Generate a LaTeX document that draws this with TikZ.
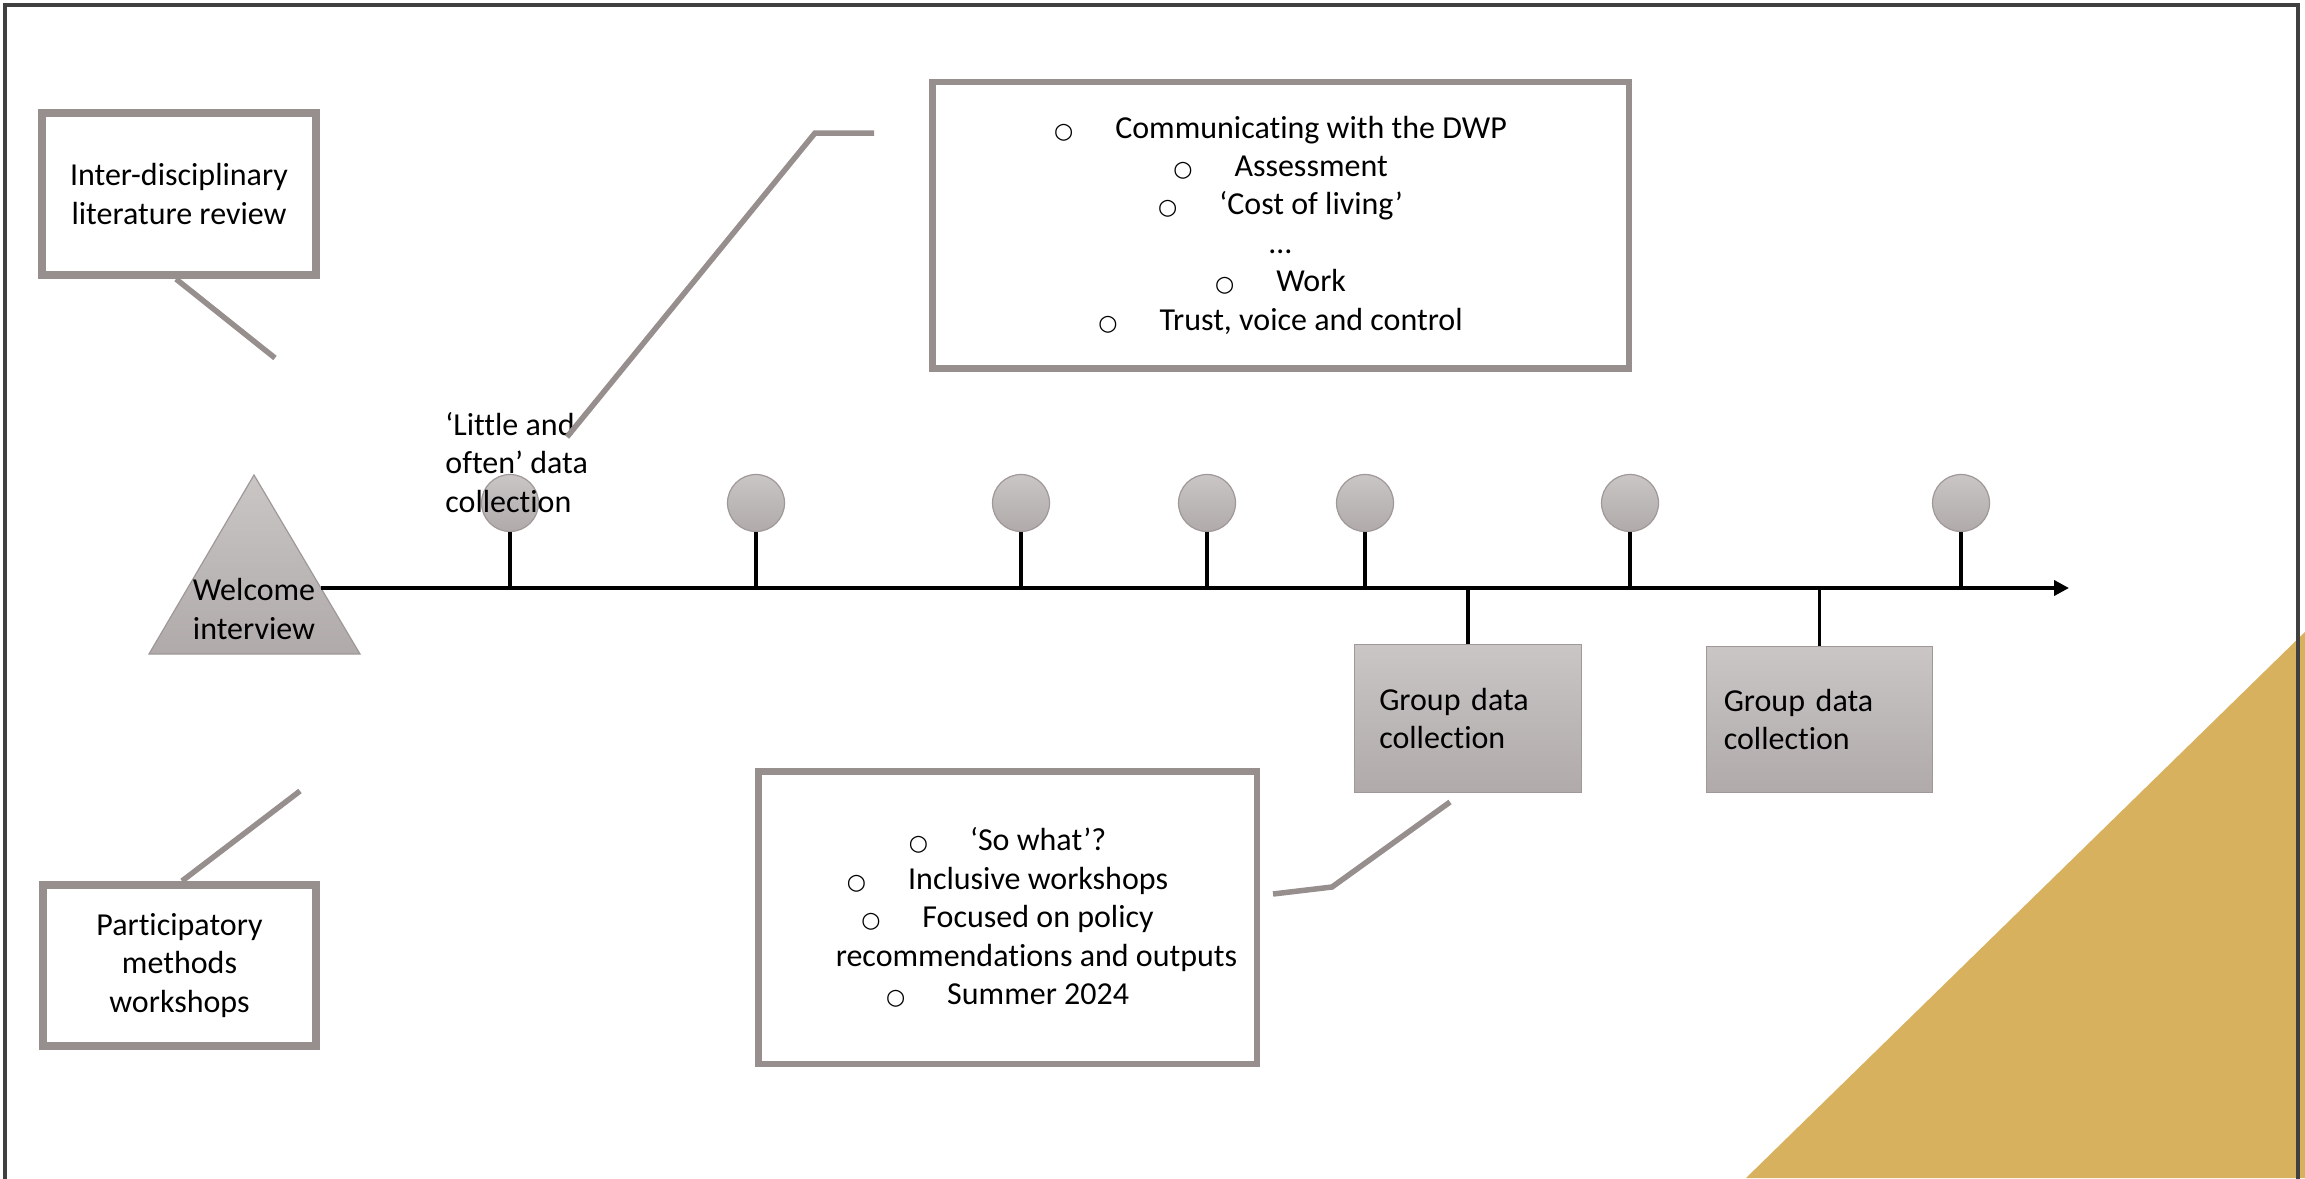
\documentclass[tikz,border=0pt]{standalone}
\usepackage{fontspec}
\setmainfont{Carlito}[Ligatures={TeX,NoCommon}]
\newfontfamily\bulletfont{DejaVu Sans}
\usetikzlibrary{arrows.meta}
\definecolor{framecol}{HTML}{404040}
\definecolor{callgray}{HTML}{978E8E}
\definecolor{goldcol}{HTML}{D8B15E}
\definecolor{shadetop}{HTML}{CAC6C6}
\definecolor{shadebot}{HTML}{B0AAAA}
\definecolor{thingray}{HTML}{A09898}
\newcommand{\bul}{{\bulletfont\fontsize{11pt}{19.2pt}\selectfont ○}\hspace{21pt}}
\tikzset{
  txt/.style={font=\fontsize{16pt}{19.2pt}\selectfont, text=black},
  callbox/.style={txt, draw=callgray, fill=white, align=center, inner sep=0pt},
  callline/.style={draw=callgray, line width=2.75pt},
  grayshade/.style={draw=thingray, line width=0.6pt, top color=shadetop, bottom color=shadebot},
  tdot/.style={grayshade, circle, minimum size=28.5pt, inner sep=0pt},
  groupbox/.style={grayshade, txt, align=left, inner ysep=0pt},
  stem/.style={draw=black, line width=1.75pt},
  timeline/.style={draw=black, line width=2pt, -{Triangle[length=7.5pt,width=7.5pt]}},
}
\begin{document}
\begin{tikzpicture}[x=0.5pt,y=-0.5pt]
\useasboundingbox (0,0) rectangle (2305,1178);
\clip (0,0) rectangle (2305,1178);
% gold corner
\fill[goldcol] (1746,1178) -- (2310,1178) -- (2310,627) -- cycle;
% frame
\draw[framecol, line width=1.75pt] (5,5) rectangle (2298,1200);

% callout boxes
\node[callbox, line width=4pt, minimum width=137pt, minimum height=81pt] (lit) at (179,194) {Inter-disciplinary\\literature review};
\node[callbox, line width=3.25pt, minimum width=348.25pt, minimum height=143.25pt] (themes) at (1280.5,225)
  {\bul Communicating with the DWP\\\bul Assessment\\\bul ‘Cost of living’\\…\\\bul Work\\\bul Trust, voice and control};
\node[callbox, line width=4pt, minimum width=136.5pt, minimum height=80.5pt] (part) at (179.5,965.5) {Participatory\\methods\\workshops};
\node[callbox, line width=3.25pt, minimum width=249.25pt, minimum height=146.25pt] (sowhat) at (1007.5,917.5)
  {\bul ‘So what’?\\\bul Inclusive workshops\\\bul Focused on policy\\\hspace*{29pt}recommendations and outputs\\\bul Summer 2024};

% welcome triangle
\path[grayshade] (254,475) -- (360,654) -- (149,654) -- cycle;
\node[txt, align=center, inner sep=0pt] (welcome) at (254,609) {Welcome\\interview};
\coordinate (tlstart) at (321,588);
\coordinate (tlend) at (2069,588);

% milestones
\foreach \x [count=\i] in {510,756,1021,1207,1365,1630,1961}
  \node[tdot] (c\i) at (\x,503) {};

% group boxes
\node[groupbox, minimum height=73.75pt, text width=88.75pt, inner xsep=12.25pt] (g1) at (1468,718.5) {Group data\\collection};
\node[groupbox, minimum height=72.75pt, text width=95.75pt, inner xsep=8.5pt] (g2) at (1819.5,719.5) {Group data\\collection};

% timeline and stems
\draw[timeline] (tlstart) -- (tlend);
\foreach \i in {1,...,7}
  \draw[stem] (c\i.south) -- (c\i.south |- tlstart);
\draw[stem] (g1.north |- tlstart) -- (g1.north);
\draw[stem] (g2.north |- tlstart) -- (g2.north);

% little and often label
\node[txt, align=left, inner sep=0pt, anchor=north west] (little) at (445,412) {‘Little and\\often’ data\\collection};

% callout lines
\coordinate (litend) at (275,358);
\draw[callline] ([xshift=-1.5pt]lit.south) -- (litend);
\coordinate (thA) at (874,133);
\coordinate (thB) at (815,133);
\coordinate (thC) at (567,437);
\draw[callline] (thA) -- (thB) -- (thC);
\coordinate (partend) at (300,791);
\draw[callline] ([xshift=1.25pt]part.north) -- (partend);
\coordinate (swA) at (1273,894);
\coordinate (swB) at (1332,887);
\coordinate (swC) at (1450,802);
\draw[callline] (swA) -- (swB) -- (swC);
\end{tikzpicture}
\end{document}
